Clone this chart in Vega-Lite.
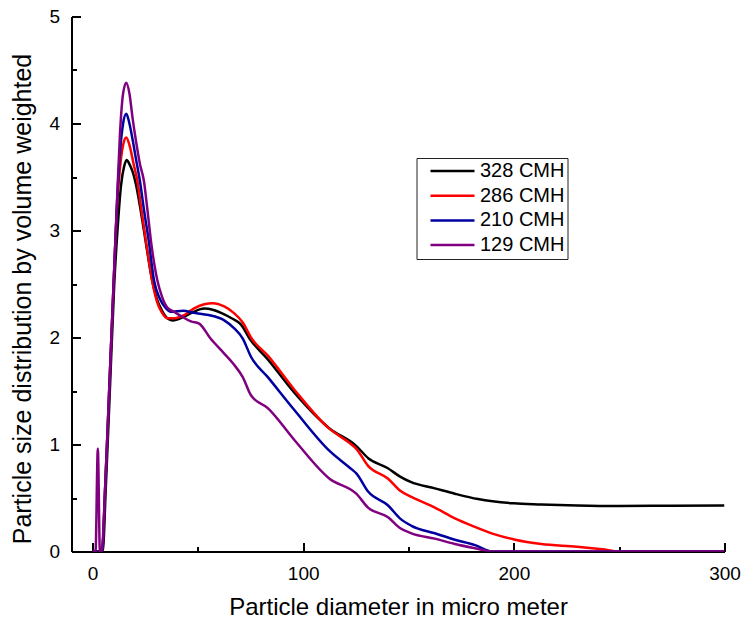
{
  "$schema": "https://vega.github.io/schema/vega-lite/v6.json",
  "width": 653,
  "height": 535,
  "autosize": {"type": "none"},
  "padding": {"left": 71.5, "top": 16.5, "right": 18.5, "bottom": 71.5},
  "background": "white",
  "config": {
    "view": {"stroke": null},
    "font": "Liberation Sans",
    "axis": {
      "domainColor": "#000000", "domainWidth": 2, "tickColor": "#000000", "tickWidth": 2,
      "labelFont": "Liberation Sans", "labelFontSize": 19, "labelColor": "#000000",
      "titleFont": "Liberation Sans", "titleFontWeight": "normal", "titleColor": "#000000",
      "grid": false
    }
  },
  "datasets": {
    "raw": [
      {"s":"328 CMH","d":0,"v":0},{"s":"328 CMH","d":4.8,"v":0},{"s":"328 CMH","d":6.3,"v":0.6},{"s":"328 CMH","d":8.3,"v":1.55},{"s":"328 CMH","d":10.3,"v":2.5},{"s":"328 CMH","d":12,"v":3.05},{"s":"328 CMH","d":13.5,"v":3.42},{"s":"328 CMH","d":15,"v":3.6},{"s":"328 CMH","d":16.2,"v":3.66},{"s":"328 CMH","d":17.5,"v":3.62},{"s":"328 CMH","d":19,"v":3.55},{"s":"328 CMH","d":20.5,"v":3.44},{"s":"328 CMH","d":22.9,"v":3.18},{"s":"328 CMH","d":25.5,"v":2.86},{"s":"328 CMH","d":28.4,"v":2.52},{"s":"328 CMH","d":30.5,"v":2.36},{"s":"328 CMH","d":33,"v":2.25},{"s":"328 CMH","d":35.5,"v":2.18},{"s":"328 CMH","d":38,"v":2.16},{"s":"328 CMH","d":43,"v":2.19},{"s":"328 CMH","d":48,"v":2.24},{"s":"328 CMH","d":53,"v":2.27},{"s":"328 CMH","d":57,"v":2.26},{"s":"328 CMH","d":61,"v":2.23},{"s":"328 CMH","d":66,"v":2.18},{"s":"328 CMH","d":70.5,"v":2.12},{"s":"328 CMH","d":74.5,"v":1.99},{"s":"328 CMH","d":83,"v":1.8},{"s":"328 CMH","d":96,"v":1.48},{"s":"328 CMH","d":112.5,"v":1.15},{"s":"328 CMH","d":125,"v":0.99},{"s":"328 CMH","d":131,"v":0.87},{"s":"328 CMH","d":140,"v":0.78},{"s":"328 CMH","d":146,"v":0.7},{"s":"328 CMH","d":151,"v":0.65},{"s":"328 CMH","d":162.5,"v":0.59},{"s":"328 CMH","d":172,"v":0.54},{"s":"328 CMH","d":183,"v":0.49},{"s":"328 CMH","d":200,"v":0.45},{"s":"328 CMH","d":213,"v":0.44},{"s":"328 CMH","d":230,"v":0.43},{"s":"328 CMH","d":250,"v":0.425},{"s":"328 CMH","d":275,"v":0.428},{"s":"328 CMH","d":300,"v":0.43},
      {"s":"286 CMH","d":0,"v":0},{"s":"286 CMH","d":4.5,"v":0},{"s":"286 CMH","d":6,"v":0.6},{"s":"286 CMH","d":8,"v":1.55},{"s":"286 CMH","d":10,"v":2.5},{"s":"286 CMH","d":11.6,"v":3.22},{"s":"286 CMH","d":13,"v":3.58},{"s":"286 CMH","d":14.5,"v":3.8},{"s":"286 CMH","d":16,"v":3.87},{"s":"286 CMH","d":17.5,"v":3.8},{"s":"286 CMH","d":19.5,"v":3.62},{"s":"286 CMH","d":21.3,"v":3.46},{"s":"286 CMH","d":23,"v":3.22},{"s":"286 CMH","d":25.5,"v":2.88},{"s":"286 CMH","d":28.3,"v":2.53},{"s":"286 CMH","d":30.5,"v":2.34},{"s":"286 CMH","d":33,"v":2.23},{"s":"286 CMH","d":35.5,"v":2.18},{"s":"286 CMH","d":38,"v":2.18},{"s":"286 CMH","d":43.5,"v":2.21},{"s":"286 CMH","d":48,"v":2.27},{"s":"286 CMH","d":53,"v":2.31},{"s":"286 CMH","d":57,"v":2.32},{"s":"286 CMH","d":62.5,"v":2.29},{"s":"286 CMH","d":67,"v":2.23},{"s":"286 CMH","d":71.3,"v":2.14},{"s":"286 CMH","d":75.2,"v":2.0},{"s":"286 CMH","d":83.2,"v":1.83},{"s":"286 CMH","d":95.9,"v":1.51},{"s":"286 CMH","d":111.7,"v":1.16},{"s":"286 CMH","d":122.9,"v":1.0},{"s":"286 CMH","d":125.2,"v":0.96},{"s":"286 CMH","d":130.8,"v":0.8},{"s":"286 CMH","d":140.3,"v":0.68},{"s":"286 CMH","d":145.9,"v":0.57},{"s":"286 CMH","d":151.4,"v":0.51},{"s":"286 CMH","d":162.5,"v":0.41},{"s":"286 CMH","d":172,"v":0.31},{"s":"286 CMH","d":181.6,"v":0.23},{"s":"286 CMH","d":191,"v":0.16},{"s":"286 CMH","d":200.6,"v":0.11},{"s":"286 CMH","d":213,"v":0.07},{"s":"286 CMH","d":230,"v":0.045},{"s":"286 CMH","d":242,"v":0.02},{"s":"286 CMH","d":250,"v":0},{"s":"286 CMH","d":300,"v":0},
      {"s":"210 CMH","d":0,"v":0},{"s":"210 CMH","d":4.5,"v":0},{"s":"210 CMH","d":6,"v":0.6},{"s":"210 CMH","d":8,"v":1.55},{"s":"210 CMH","d":10,"v":2.5},{"s":"210 CMH","d":11.6,"v":3.25},{"s":"210 CMH","d":13,"v":3.72},{"s":"210 CMH","d":14.5,"v":4.0},{"s":"210 CMH","d":16,"v":4.09},{"s":"210 CMH","d":17.5,"v":4.0},{"s":"210 CMH","d":19,"v":3.85},{"s":"210 CMH","d":20.5,"v":3.68},{"s":"210 CMH","d":22.5,"v":3.46},{"s":"210 CMH","d":24.5,"v":3.18},{"s":"210 CMH","d":26.7,"v":2.9},{"s":"210 CMH","d":29.2,"v":2.53},{"s":"210 CMH","d":32,"v":2.36},{"s":"210 CMH","d":34.5,"v":2.28},{"s":"210 CMH","d":37.1,"v":2.24},{"s":"210 CMH","d":43,"v":2.25},{"s":"210 CMH","d":48.2,"v":2.23},{"s":"210 CMH","d":55,"v":2.21},{"s":"210 CMH","d":62.5,"v":2.16},{"s":"210 CMH","d":67,"v":2.09},{"s":"210 CMH","d":71.3,"v":1.99},{"s":"210 CMH","d":75.2,"v":1.82},{"s":"210 CMH","d":83.2,"v":1.63},{"s":"210 CMH","d":95.9,"v":1.32},{"s":"210 CMH","d":112.5,"v":0.94},{"s":"210 CMH","d":122.9,"v":0.77},{"s":"210 CMH","d":125.2,"v":0.73},{"s":"210 CMH","d":130.8,"v":0.56},{"s":"210 CMH","d":140.3,"v":0.43},{"s":"210 CMH","d":145.9,"v":0.31},{"s":"210 CMH","d":151.4,"v":0.24},{"s":"210 CMH","d":162.5,"v":0.17},{"s":"210 CMH","d":172,"v":0.11},{"s":"210 CMH","d":181.6,"v":0.06},{"s":"210 CMH","d":189.5,"v":0},{"s":"210 CMH","d":300,"v":0},
      {"s":"129 CMH","d":0,"v":0},{"s":"129 CMH","d":1.4,"v":0},{"s":"129 CMH","d":2.5,"v":0.96},{"s":"129 CMH","d":3.5,"v":0},{"s":"129 CMH","d":4.3,"v":0},{"s":"129 CMH","d":6,"v":0.62},{"s":"129 CMH","d":8,"v":1.57},{"s":"129 CMH","d":10,"v":2.52},{"s":"129 CMH","d":11.6,"v":3.27},{"s":"129 CMH","d":13,"v":3.9},{"s":"129 CMH","d":14.5,"v":4.28},{"s":"129 CMH","d":16,"v":4.38},{"s":"129 CMH","d":17.5,"v":4.28},{"s":"129 CMH","d":19,"v":4.05},{"s":"129 CMH","d":20.5,"v":3.85},{"s":"129 CMH","d":22.5,"v":3.62},{"s":"129 CMH","d":24.4,"v":3.46},{"s":"129 CMH","d":26,"v":3.2},{"s":"129 CMH","d":28,"v":2.86},{"s":"129 CMH","d":30.8,"v":2.53},{"s":"129 CMH","d":33,"v":2.38},{"s":"129 CMH","d":35.5,"v":2.28},{"s":"129 CMH","d":38.7,"v":2.24},{"s":"129 CMH","d":42,"v":2.2},{"s":"129 CMH","d":46.7,"v":2.15},{"s":"129 CMH","d":50.6,"v":2.13},{"s":"129 CMH","d":56,"v":1.99},{"s":"129 CMH","d":62.5,"v":1.85},{"s":"129 CMH","d":67,"v":1.75},{"s":"129 CMH","d":71.3,"v":1.63},{"s":"129 CMH","d":75.2,"v":1.46},{"s":"129 CMH","d":83.2,"v":1.34},{"s":"129 CMH","d":95.9,"v":1.04},{"s":"129 CMH","d":112.5,"v":0.68},{"s":"129 CMH","d":125.2,"v":0.54},{"s":"129 CMH","d":130.8,"v":0.41},{"s":"129 CMH","d":140.3,"v":0.32},{"s":"129 CMH","d":145.9,"v":0.22},{"s":"129 CMH","d":151.4,"v":0.17},{"s":"129 CMH","d":162.5,"v":0.12},{"s":"129 CMH","d":172,"v":0.07},{"s":"129 CMH","d":181.6,"v":0.03},{"s":"129 CMH","d":189.5,"v":0},{"s":"129 CMH","d":300,"v":0}
    ]
  },
  "data": {"name": "raw"},
  "mark": {"type": "line", "strokeWidth": 2.5, "clip": true, "interpolate": "monotone"},
  "encoding": {
    "x": {
      "field": "d", "type": "quantitative",
      "scale": {"domain": [-10, 300], "nice": false, "zero": false},
      "axis": {
        "title": "Particle diameter in micro meter",
        "titleFontSize": 24,
        "values": [0, 50, 100, 150, 200, 250, 300],
        "labelExpr": "datum.value % 100 === 0 ? format(datum.value, 'd') : ''",
        "labelFlush": false,
        "tickSize": {"condition": {"test": "datum.value % 100 === 0", "value": -9}, "value": -5},
        "labelPadding": 22,
        "titlePadding": 12
      }
    },
    "y": {
      "field": "v", "type": "quantitative",
      "scale": {"domain": [0, 5], "nice": false},
      "axis": {
        "title": "Particle size distribution by volume weighted",
        "titleFontSize": 25,
        "titleY": 282,
        "values": [0, 0.5, 1, 1.5, 2, 2.5, 3, 3.5, 4, 4.5, 5],
        "labelExpr": "datum.value % 1 === 0 ? format(datum.value, 'd') : ''",
        "tickSize": {"condition": {"test": "datum.value % 1 === 0", "value": -9}, "value": -5},
        "labelPadding": 21,
        "titlePadding": 13
      }
    },
    "color": {
      "field": "s", "type": "nominal",
      "scale": {"domain": ["328 CMH", "286 CMH", "210 CMH", "129 CMH"], "range": ["#000000", "#FF0000", "#0000A0", "#800080"]},
      "legend": {
        "title": null, "orient": "none", "legendX": 345, "legendY": 141.5,
        "labelFontSize": 20, "labelFont": "Liberation Sans", "labelColor": "#000000",
        "labelExpr": "datum.label + '\u2002'",
        "symbolType": "M-0.05,0H4.35", "symbolSize": 400, "symbolStrokeWidth": 2.5,
        "clipHeight": 20,
        "strokeColor": "#222222", "padding": 3, "rowPadding": 4.7, "labelOffset": 37.5
      }
    }
  }
}
